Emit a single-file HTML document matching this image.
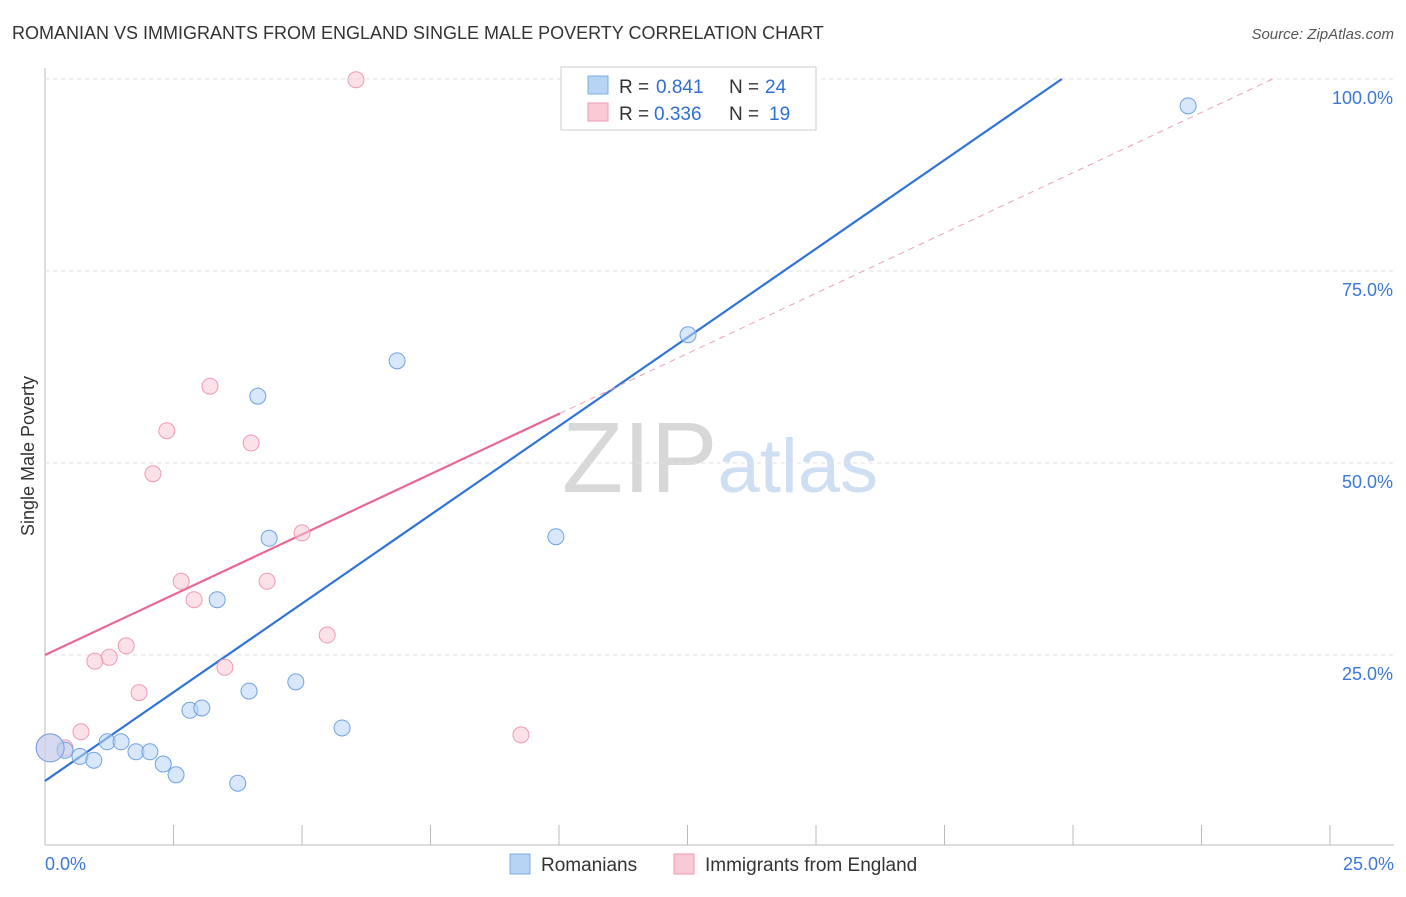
<!DOCTYPE html>
<html><head><meta charset="utf-8"><style>
body{margin:0;background:#fff;font-family:"Liberation Sans",sans-serif;}
svg text{font-family:"Liberation Sans",sans-serif;}
</style></head><body>
<svg width="1406" height="892" id="chart">
<text x="12" y="39" font-size="18" fill="#333">ROMANIAN VS IMMIGRANTS FROM ENGLAND SINGLE MALE POVERTY CORRELATION CHART</text>
<text x="1394" y="39" font-size="15" fill="#555" font-style="italic" text-anchor="end">Source: ZipAtlas.com</text>
<text x="34" y="456" font-size="18" fill="#333" transform="rotate(-90 34 456)" text-anchor="middle">Single Male Poverty</text>
<text x="720" y="492" font-size="100" fill="#ddd" text-anchor="middle" font-family="Liberation Serif"><tspan fill="#d8d8d8">ZIP</tspan><tspan fill="#cfdff3" font-family="Liberation Sans" font-size="76">atlas</tspan></text>
<g id="grid"></g><g id="lines"></g><g id="pts"></g>
<g>
<rect x="561" y="67" width="255" height="63" fill="#fff" stroke="#ccc"/>
<rect x="588" y="76" width="20" height="18" fill="#b8d4f5" stroke="#7aaee8"/>
<text x="619" y="93" font-size="19" fill="#333">R =</text>
<text x="656" y="93" font-size="19" fill="#2f6fd1">0.841</text>
<text x="729" y="93" font-size="19" fill="#333">N =</text>
<text x="765" y="93" font-size="19" fill="#2f6fd1">24</text>
<rect x="588" y="103" width="20" height="18" fill="#f9c9d6" stroke="#ef9ab2"/>
<text x="619" y="120" font-size="19" fill="#333">R =</text>
<text x="654" y="120" font-size="19" fill="#2f6fd1">0.336</text>
<text x="729" y="120" font-size="19" fill="#333">N =</text>
<text x="769" y="120" font-size="19" fill="#2f6fd1">19</text>
</g>
<g>
<rect x="510" y="854" width="20" height="20" fill="#b8d4f5" stroke="#7aaee8"/>
<text x="541" y="871" font-size="19" fill="#333">Romanians</text>
<rect x="674" y="854" width="20" height="20" fill="#f9c9d6" stroke="#ef9ab2"/>
<text x="705" y="871" font-size="19" fill="#333">Immigrants from England</text>
</g>
</svg>
<script>
const xTicks=[0,2.5,5,7.5,10,12.5,15,17.5,20,22.5,25];
const yTicks=[25,50,75,100];
const blueX=[22.24,10.64,12.51,6.85,4.14,9.94,4.36,3.35,4.88,3.97,2.82,3.05,5.78,1.21,1.48,0.39,0.68,0.95,1.77,2.04,2.30,2.55,3.75,0.10];
const blueY=[96.5,99.9,66.7,63.3,58.7,40.4,40.2,32.2,21.5,20.3,17.8,18.1,15.5,13.7,13.7,12.6,11.8,11.3,12.4,12.4,10.8,9.4,8.3,12.9];
const pinkX=[6.05,3.21,2.37,4.01,2.10,5.00,2.65,4.32,2.90,5.49,1.58,1.25,0.97,3.50,1.83,0.70,9.26,0.39,0.10];
const pinkY=[99.9,60.0,54.2,52.6,48.6,40.9,34.6,34.6,32.2,27.6,26.2,24.7,24.2,23.4,20.1,15.0,14.6,12.9,12.9];
const blueFit=[8.6,4.62];
const pinkFit=[25.0,3.14];
const X=v=>45+v/25*1285, Y=v=>847-v/100*768;
const NS="http://www.w3.org/2000/svg";
function mk(p,t,a){const e=document.createElementNS(NS,t);for(const k in a)e.setAttribute(k,a[k]);p.appendChild(e);return e;}
const g=document.getElementById('grid'),L=document.getElementById('lines'),P=document.getElementById('pts');
let ax=mk(g,'line',{x1:45,y1:845,x2:1394,y2:845,stroke:'#bbb'});

let ay=mk(g,'line',{x1:45,y1:68,x2:45,y2:845,stroke:'#bbb'});

xTicks.forEach(t=>{const e=mk(g,'line',{x1:X(t),y1:825,x2:X(t),y2:845,stroke:'#bbb'});
});
yTicks.forEach(t=>{const e=mk(g,'line',{x1:45,y1:Y(t),x2:1394,y2:Y(t),stroke:'#e2e2e2','stroke-dasharray':'4 4'});

const tx=mk(g,'text',{x:1393,y:Y(t)+25,'font-size':18,fill:'#3b78d8','text-anchor':'end'});tx.textContent=t.toFixed(1)+'%';
});
[[0,45,'start'],[25,1394,'end']].forEach(([v,x,a])=>{const tx=mk(g,'text',{x:x,y:870,'font-size':18,fill:'#3b78d8','text-anchor':a});tx.textContent=v.toFixed(1)+'%';
});
const bxEnd=(100-blueFit[0])/blueFit[1];
let bl=mk(L,'line',{x1:X(0),y1:Y(blueFit[0]),x2:X(bxEnd),y2:Y(100),stroke:'#2f74d6','stroke-width':2.2});

const pxSolid=10.02,pxEnd=(100-pinkFit[0])/pinkFit[1];
let pl=mk(L,'line',{x1:X(0),y1:Y(pinkFit[0]),x2:X(pxSolid),y2:Y(pinkFit[0]+pinkFit[1]*pxSolid),stroke:'#e8688f','stroke-width':2.2});

let pd=mk(L,'line',{x1:X(pxSolid),y1:Y(pinkFit[0]+pinkFit[1]*pxSolid),x2:X(pxEnd),y2:Y(100),stroke:'#eea0b6','stroke-width':1,'stroke-dasharray':'6 5'});

function dots(xs,ys,fill,stroke,name){xs.forEach((x,i)=>{const r=(i==xs.length-1)?14:8;
const c=mk(P,'circle',{cx:X(x),cy:Y(ys[i]),r:r,fill:fill,'fill-opacity':0.55,stroke:stroke,'stroke-width':1});
});}
dots(pinkX,pinkY,'#f9c9d6','#ef9ab2','england-point');
dots(blueX,blueY,'#b8d4f5','#6fa3e3','romanians-point');
</script>
</body></html>
